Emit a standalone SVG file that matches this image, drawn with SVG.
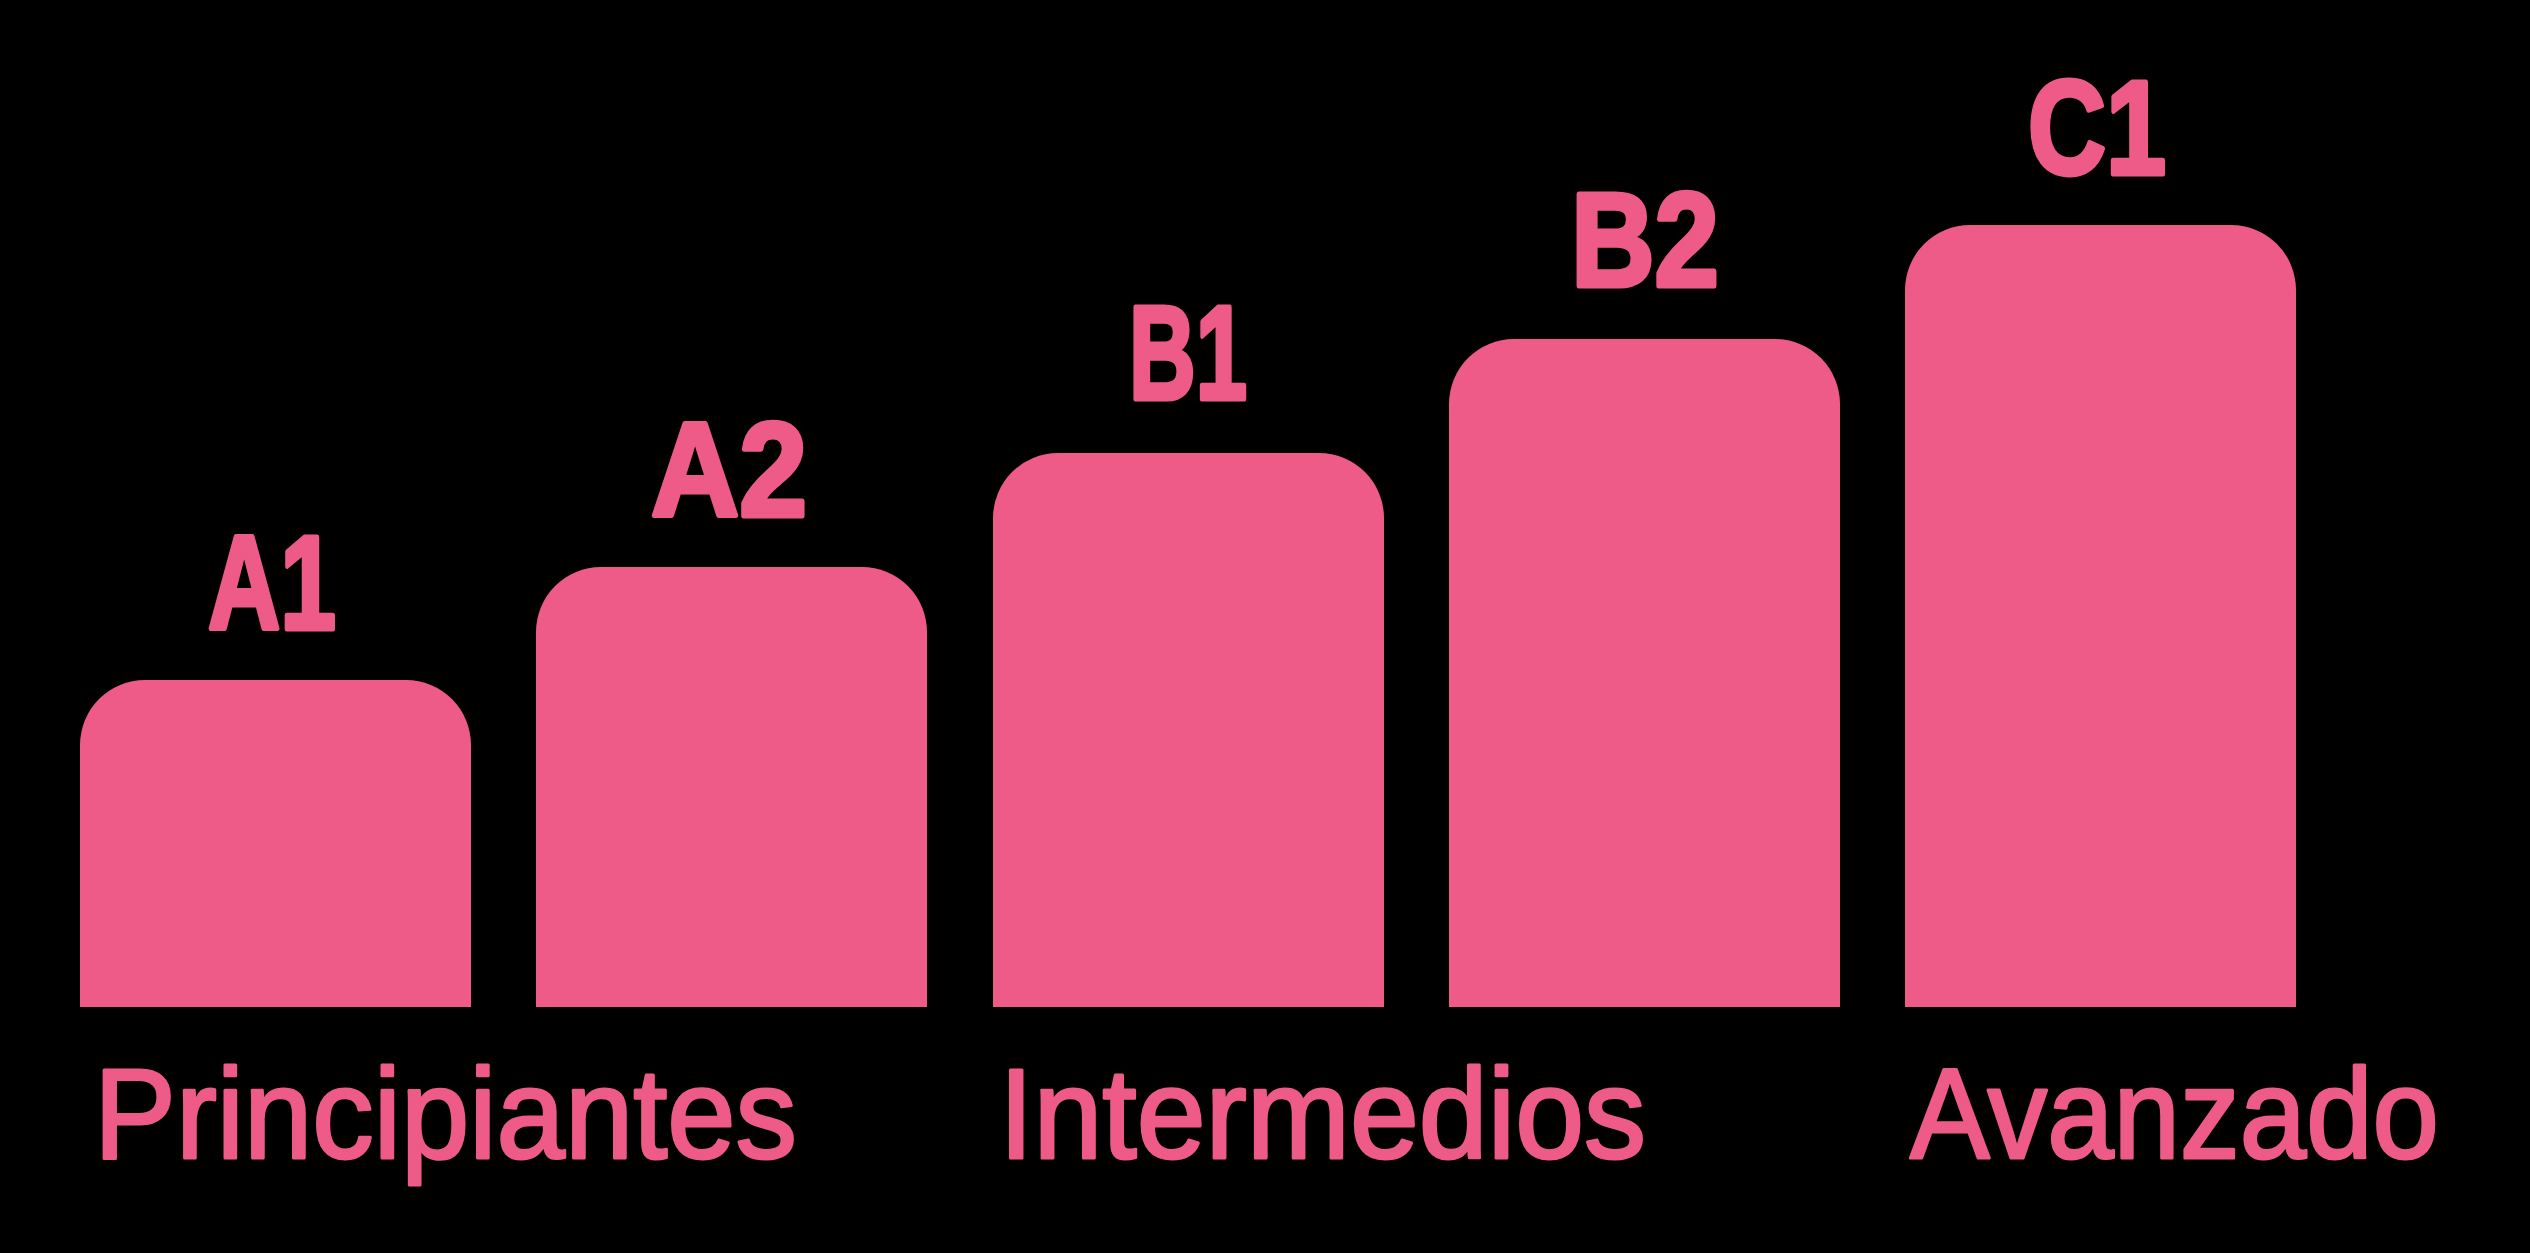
<svg xmlns="http://www.w3.org/2000/svg" width="2530" height="1253" viewBox="0 0 2530 1253">
<style>
.bar{fill:#EE5B88}
.lvl{font-family:"Liberation Sans",Arial,sans-serif;font-weight:bold;font-size:134px;fill:#EE5B88;stroke:#EE5B88;stroke-width:5;stroke-linejoin:round}
.cat{font-family:"Liberation Sans",Arial,sans-serif;font-size:128px;fill:#EE5B88;stroke:#EE5B88;stroke-width:3;stroke-linejoin:round}
</style>
<rect x="0" y="0" width="2530" height="1253" fill="#000000"/>
<g id="node-a1">
<path class="bar" d="M80,1007 V745 A65,65 0 0 1 145,680 H406 A65,65 0 0 1 471,745 V1007 Z"/>
<text class="lvl" x="208" y="629" textLength="128" lengthAdjust="spacingAndGlyphs">A1</text>
</g>
<g id="node-a2">
<path class="bar" d="M536,1007 V632 A65,65 0 0 1 601,567 H862 A65,65 0 0 1 927,632 V1007 Z"/>
<text class="lvl" x="651" y="516" textLength="156" lengthAdjust="spacingAndGlyphs">A2</text>
</g>
<g id="node-b1">
<path class="bar" d="M993,1007 V518 A65,65 0 0 1 1058,453 H1319 A65,65 0 0 1 1384,518 V1007 Z"/>
<text class="lvl" x="1129" y="399" textLength="118" lengthAdjust="spacingAndGlyphs">B1</text>
</g>
<g id="node-b2">
<path class="bar" d="M1449,1007 V404 A65,65 0 0 1 1514,339 H1775 A65,65 0 0 1 1840,404 V1007 Z"/>
<text class="lvl" x="1571" y="286" textLength="148" lengthAdjust="spacingAndGlyphs">B2</text>
</g>
<g id="node-c1">
<path class="bar" d="M1905,1007 V290 A65,65 0 0 1 1970,225 H2231 A65,65 0 0 1 2296,290 V1007 Z"/>
<text class="lvl" x="2028" y="174" textLength="138" lengthAdjust="spacingAndGlyphs">C1</text>
</g>
<g id="categories">
<text class="cat" x="94" y="1158" textLength="703" lengthAdjust="spacingAndGlyphs">Principiantes</text>
<text class="cat" x="999" y="1158" textLength="647" lengthAdjust="spacingAndGlyphs">Intermedios</text>
<text class="cat" x="1910" y="1158" textLength="529" lengthAdjust="spacingAndGlyphs">Avanzado</text>
</g>
<g id="connectors"></g>
</svg>
